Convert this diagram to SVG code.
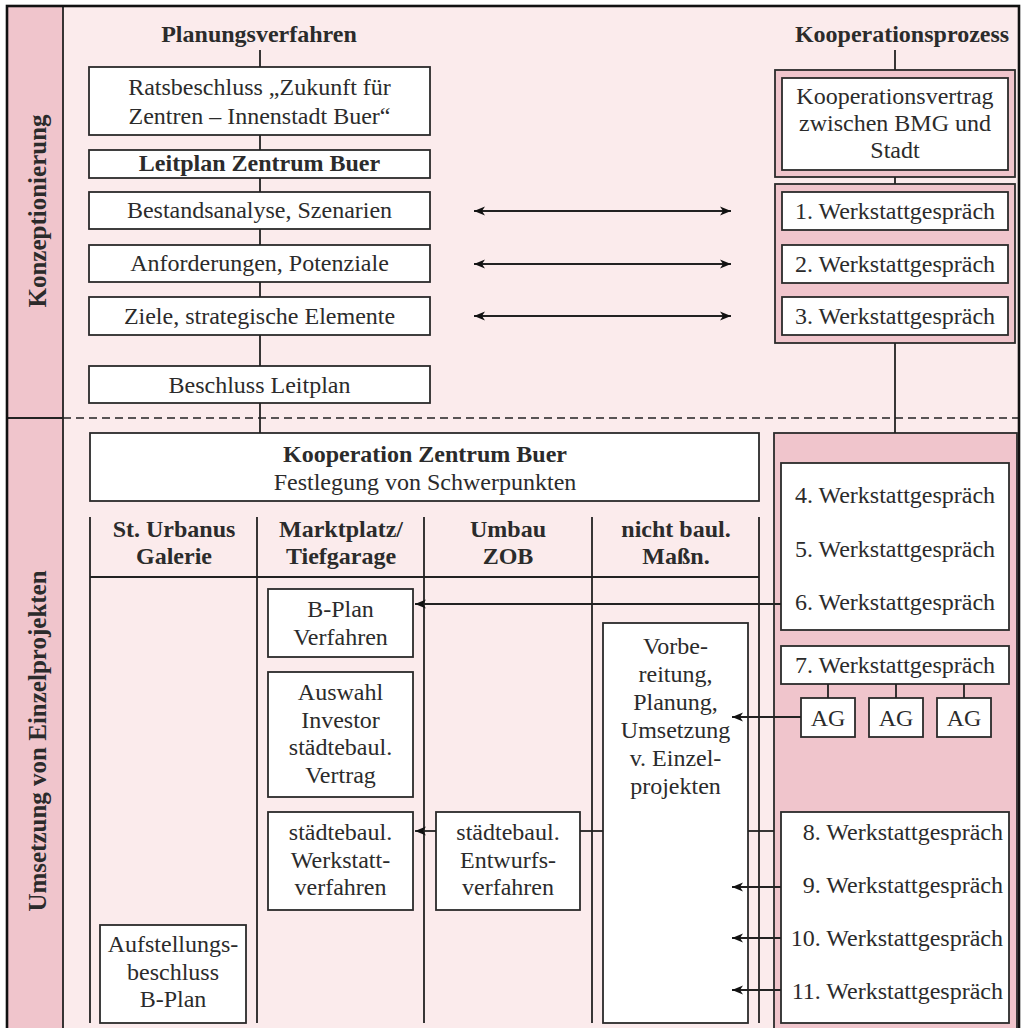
<svg xmlns="http://www.w3.org/2000/svg" width="1022" height="1028" viewBox="0 0 1022 1028" font-family="Liberation Serif, serif" font-size="24">
<defs>
<style>
.bg{fill:#fbebec}
.band{fill:#f0c5cc}
.box{fill:#fff;stroke:#2b2b2b;stroke-width:1.8}
.pbox{fill:#f0c5cc;stroke:#2b2b2b;stroke-width:1.8}
.ln{stroke:#222;stroke-width:1.8;fill:none}
text{fill:#2b2b2b;text-anchor:middle}
.b{font-weight:bold}
.r{text-anchor:end}
.side{font-size:25px}
</style>
<marker id="ah" markerUnits="userSpaceOnUse" markerWidth="12" markerHeight="10" refX="11" refY="4.5" orient="auto-start-reverse" viewBox="0 0 12 9">
<path d="M0,0 L11,4.5 L0,9 L3,4.5 z" fill="#111"/>
</marker>
</defs>

<g id="background">
<rect x="7" y="6" width="1012" height="1040" class="bg"/>
<rect x="7" y="6" width="56" height="1040" class="band"/>
<line x1="63" y1="6" x2="63" y2="1028" class="ln"/>
<line x1="7" y1="418" x2="63" y2="418" class="ln"/>
<line x1="63" y1="418" x2="1019" y2="418" stroke="#222" stroke-width="1.6" stroke-dasharray="8,5"/>
<rect x="7" y="6" width="1012" height="1040" fill="none" stroke="#111" stroke-width="2.6"/>
<text class="b side" transform="translate(46,211) rotate(-90)">Konzeptionierung</text>
<text class="b side" transform="translate(46,741) rotate(-90)">Umsetzung von Einzelprojekten</text>
<text class="b" x="259" y="42">Planungsverfahren</text>
<text class="b" x="902" y="42">Kooperationsprozess</text>
</g>

<g id="table">
<line x1="90" y1="517" x2="90" y2="1023" class="ln"/>
<line x1="257" y1="517" x2="257" y2="1023" class="ln"/>
<line x1="424" y1="517" x2="424" y2="1023" class="ln"/>
<line x1="592" y1="517" x2="592" y2="1023" class="ln"/>
<line x1="759" y1="517" x2="759" y2="1023" class="ln"/>
<line x1="90" y1="577" x2="759" y2="577" class="ln"/>
<text class="b" x="174" y="537">St. Urbanus</text><text class="b" x="174" y="564">Galerie</text>
<text class="b" x="341" y="537">Marktplatz/</text><text class="b" x="341" y="564">Tiefgarage</text>
<text class="b" x="508" y="537">Umbau</text><text class="b" x="508" y="564">ZOB</text>
<text class="b" x="676" y="537">nicht baul.</text><text class="b" x="676" y="564">Maßn.</text>
</g>

<!-- Planungsverfahren -->
<g id="n-ratsbeschluss"><rect x="89" y="67" width="341" height="68" class="box"/>
<text x="259.5" y="95">Ratsbeschluss „Zukunft für</text>
<text x="259.5" y="124">Zentren – Innenstadt Buer“</text></g>
<g id="n-leitplan"><rect x="89" y="150" width="341" height="28" class="box"/>
<text class="b" x="259.5" y="171">Leitplan Zentrum Buer</text></g>
<g id="n-bestand"><rect x="89" y="192" width="341" height="37" class="box"/>
<text x="259.5" y="218">Bestandsanalyse, Szenarien</text></g>
<g id="n-anford"><rect x="89" y="245" width="341" height="37" class="box"/>
<text x="259.5" y="271">Anforderungen, Potenziale</text></g>
<g id="n-ziele"><rect x="89" y="297" width="341" height="38" class="box"/>
<text x="259.5" y="324">Ziele, strategische Elemente</text></g>
<g id="n-beschluss"><rect x="89" y="366" width="341" height="37" class="box"/>
<text x="259.5" y="393">Beschluss Leitplan</text></g>

<!-- Kooperationsprozess -->
<g id="n-vertrag"><rect x="775" y="70" width="240" height="107" class="pbox"/>
<rect x="782" y="78" width="226" height="92" class="box"/>
<text x="895" y="104">Kooperationsvertrag</text>
<text x="895" y="131">zwischen BMG und</text>
<text x="895" y="158">Stadt</text></g>
<g id="n-wg1-3"><rect x="775" y="184" width="240" height="159" class="pbox"/>
<rect x="782" y="192" width="226" height="38" class="box"/>
<text x="895" y="219">1. Werkstattgespräch</text>
<rect x="782" y="245" width="226" height="38" class="box"/>
<text x="895" y="272">2. Werkstattgespräch</text>
<rect x="782" y="297" width="226" height="38" class="box"/>
<text x="895" y="324">3. Werkstattgespräch</text></g>

<!-- Umsetzung -->
<g id="n-kzb"><rect x="90" y="433" width="669" height="68" class="box"/>
<text class="b" x="425" y="462">Kooperation Zentrum Buer</text>
<text x="425" y="490">Festlegung von Schwerpunkten</text></g>

<g id="n-bplan"><rect x="268" y="589" width="145" height="68" class="box"/>
<text x="340.5" y="617">B-Plan</text><text x="340.5" y="645">Verfahren</text></g>
<g id="n-auswahl"><rect x="268" y="672" width="145" height="125" class="box"/>
<text x="340.5" y="700">Auswahl</text><text x="340.5" y="728">Investor</text>
<text x="340.5" y="755">städtebaul.</text><text x="340.5" y="783">Vertrag</text></g>
<g id="n-werkstattverf"><rect x="268" y="812" width="145" height="98" class="box"/>
<text x="340.5" y="840">städtebaul.</text><text x="340.5" y="868">Werkstatt-</text><text x="340.5" y="895">verfahren</text></g>
<g id="n-entwurf"><rect x="436" y="812" width="144" height="98" class="box"/>
<text x="508" y="840">städtebaul.</text><text x="508" y="868">Entwurfs-</text><text x="508" y="895">verfahren</text></g>
<g id="n-aufstellung"><rect x="100" y="925" width="146" height="98" class="box"/>
<text x="173" y="952">Aufstellungs-</text><text x="173" y="980">beschluss</text><text x="173" y="1007">B-Plan</text></g>
<g id="n-vorbereitung"><rect x="603" y="623" width="145" height="400" class="box"/>
<text x="675.5" y="654">Vorbe-</text><text x="675.5" y="682">reitung,</text>
<text x="675.5" y="710">Planung,</text><text x="675.5" y="738">Umsetzung</text>
<text x="675.5" y="766">v. Einzel-</text><text x="675.5" y="794">projekten</text></g>

<g id="n-wg4-11"><rect x="774" y="433" width="243" height="620" class="pbox"/>
<rect x="781" y="463" width="228" height="167" class="box"/>
<text x="895" y="503">4. Werkstattgespräch</text>
<text x="895" y="557">5. Werkstattgespräch</text>
<text x="895" y="610">6. Werkstattgespräch</text>
<rect x="781" y="646" width="228" height="38" class="box"/>
<text x="895" y="673">7. Werkstattgespräch</text>
<rect x="781" y="812" width="228" height="211" class="box"/>
<text class="r" x="1003" y="840">8. Werkstattgespräch</text>
<text class="r" x="1003" y="893">9. Werkstattgespräch</text>
<text class="r" x="1003" y="946">10. Werkstattgespräch</text>
<text class="r" x="1003" y="999">11. Werkstattgespräch</text></g>
<g id="n-ag1"><rect x="801" y="698" width="54" height="39" class="box"/><text x="828" y="726">AG</text></g>
<g id="n-ag2"><rect x="869" y="698" width="54" height="39" class="box"/><text x="896" y="726">AG</text></g>
<g id="n-ag3"><rect x="937" y="698" width="54" height="39" class="box"/><text x="964" y="726">AG</text></g>

<g id="connectors">
<line x1="260" y1="50" x2="260" y2="67" class="ln"/>
<line x1="260" y1="135" x2="260" y2="150" class="ln"/>
<line x1="260" y1="178" x2="260" y2="192" class="ln"/>
<line x1="260" y1="229" x2="260" y2="245" class="ln"/>
<line x1="260" y1="282" x2="260" y2="297" class="ln"/>
<line x1="260" y1="335" x2="260" y2="366" class="ln"/>
<line x1="260" y1="403" x2="260" y2="433" class="ln"/>
<line x1="895" y1="50" x2="895" y2="70" class="ln"/>
<line x1="895" y1="177" x2="895" y2="184" class="ln"/>
<line x1="895" y1="343" x2="895" y2="433" class="ln"/>
<line x1="474" y1="211" x2="731" y2="211" class="ln" marker-start="url(#ah)" marker-end="url(#ah)"/>
<line x1="474" y1="264" x2="731" y2="264" class="ln" marker-start="url(#ah)" marker-end="url(#ah)"/>
<line x1="474" y1="316" x2="731" y2="316" class="ln" marker-start="url(#ah)" marker-end="url(#ah)"/>
<line x1="781" y1="604" x2="415" y2="604" class="ln" marker-end="url(#ah)"/>
<line x1="801" y1="717" x2="732" y2="717" class="ln" marker-end="url(#ah)"/>
<line x1="436" y1="831" x2="415" y2="831" class="ln" marker-end="url(#ah)"/>
<line x1="580" y1="831" x2="603" y2="831" class="ln"/>
<line x1="748" y1="831" x2="774" y2="831" class="ln"/>
<line x1="781" y1="887" x2="732" y2="887" class="ln" marker-end="url(#ah)"/>
<line x1="781" y1="938" x2="732" y2="938" class="ln" marker-end="url(#ah)"/>
<line x1="781" y1="990" x2="732" y2="990" class="ln" marker-end="url(#ah)"/>
<line x1="828" y1="684" x2="828" y2="698" class="ln"/>
<line x1="896" y1="684" x2="896" y2="698" class="ln"/>
<line x1="964" y1="684" x2="964" y2="698" class="ln"/>
</g>
</svg>
